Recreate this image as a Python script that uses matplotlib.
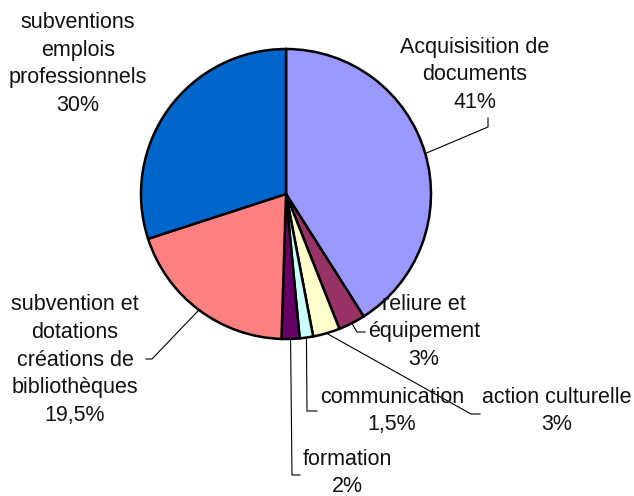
import numpy as np
import matplotlib.pyplot as plt

plt.rcParams['font.family'] = ['Liberation Sans', 'DejaVu Sans']

# ==== data ====
labels = ["Acquisisition de\ndocuments", "reliure et\néquipement", "action culturelle",
          "communication", "formation",
          "subvention et\ndotations\ncréations de\nbibliothèques",
          "subventions\nemplois\nprofessionnels"]
pct_text = ["41%", "3%", "3%", "1,5%", "2%", "19,5%", "30%"]
values = [41, 3, 3, 1.5, 2, 19.5, 30]
colors = ["#9999FF", "#993366", "#FFFFCC", "#CCFFFF", "#660066", "#FF8080", "#0066CC"]

# ==== layout (pixel coords, y down) ====
W, H = 634, 496
cx, cy, R = 286, 194, 145
text_pos = [(475, 75), (424, 332), (557, 411), (392, 411), (347, 473), (75, 360), (78, 64)]
# leader elbows: list of points after the wedge edge point (None = no leader)
leaders = [[(488, 127), (488, 118)],
           [(357, 332), (365, 332)],
           [(471, 414), (480, 414)],
           [(307, 411), (317, 411)],
           [(292, 475), (300, 475)],
           [(152, 359), (146, 359)],
           None]

fig = plt.figure(figsize=(W / 100, H / 100), dpi=100)
ax = fig.add_axes([0, 0, 1, 1])
ax.set_xlim(0, W)
ax.set_ylim(0, H)
ax.set_aspect('equal')
ax.axis('off')

wedges, _ = ax.pie(values, colors=colors, startangle=90, counterclock=False,
                   center=(cx, H - cy), radius=R,
                   wedgeprops=dict(edgecolor='black', linewidth=1.8))
ax.set_xlim(0, W)
ax.set_ylim(0, H)

for w, lab, pt, (tx, ty), ld in zip(wedges, labels, pct_text, text_pos, leaders):
    mid = np.deg2rad((w.theta1 + w.theta2) / 2)
    ex, ey = cx + R * np.cos(mid), (H - cy) + R * np.sin(mid)
    if ld is not None:
        xs = [ex] + [p[0] for p in ld]
        ys = [ey] + [H - p[1] for p in ld]
        ax.plot(xs, ys, color='black', lw=0.8)
    ax.text(tx, H - ty, lab + "\n" + pt, ha='center', va='center',
            multialignment='center', fontsize=15.5, linespacing=1.42, color='#111111')

fig.savefig("out.png", dpi=100)
